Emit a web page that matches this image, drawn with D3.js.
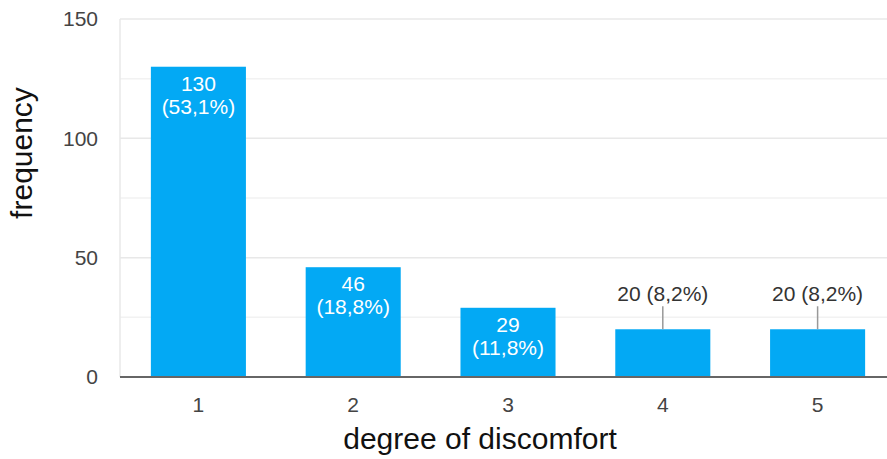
<!DOCTYPE html>
<html>
<head>
<meta charset="utf-8">
<script src="https://cdn.jsdelivr.net/npm/d3@7"></script>
<style>
  html, body { margin: 0; padding: 0; background: #fff; }
  svg { display: block; font-family: "Liberation Sans", Arial, sans-serif; }
</style>
</head>
<body>
<svg id="chart" width="887" height="459"></svg>
<script>
// Responses per degree of discomfort
const categories = ["1", "2", "3", "4", "5"];
const counts = [130, 46, 29, 20, 20];
const percents = ["53,1%", "18,8%", "11,8%", "8,2%", "8,2%"];
const yTicks = [0, 50, 100, 150];
const yMinorTicks = [25, 75, 125];

const svg = d3.select("#chart");
const plotLeft = 120, plotRight = 895, plotTop = 19, plotBottom = 377;

const x = d3.scaleBand()
  .domain(categories)
  .range([plotLeft + 1, plotRight])
  .paddingInner(0.386)
  .paddingOuter(0.193);

const y = d3.scaleLinear().domain([0, 150]).range([plotBottom, plotTop]);

// gridlines
svg.append("g").selectAll("line")
  .data(yMinorTicks).join("line")
  .attr("x1", plotLeft).attr("x2", 887)
  .attr("y1", d => y(d)).attr("y2", d => y(d))
  .attr("stroke", "#f2f2f2").attr("stroke-width", 1.5);

svg.append("g").selectAll("line")
  .data(yTicks.filter(d => d > 0)).join("line")
  .attr("x1", plotLeft).attr("x2", 887)
  .attr("y1", d => y(d)).attr("y2", d => y(d))
  .attr("stroke", "#e8e8e8").attr("stroke-width", 1.5);

// left frame line
svg.append("line")
  .attr("x1", plotLeft).attr("x2", plotLeft)
  .attr("y1", y(150)).attr("y2", plotBottom)
  .attr("stroke", "#e8e8e8").attr("stroke-width", 1.5);

// y axis labels
const yAxis = d3.axisLeft(y).tickValues(yTicks).tickSize(0).tickPadding(22);
const gy = svg.append("g").attr("transform", `translate(${plotLeft},0)`).call(yAxis);
gy.select(".domain").remove();
gy.selectAll("text")
  .attr("fill", "#444").attr("font-size", 21)
  .attr("font-family", "Liberation Sans, Arial, sans-serif");

// bars
svg.append("g").selectAll("rect")
  .data(categories).join("rect")
  .attr("x", d => x(d))
  .attr("width", x.bandwidth())
  .attr("y", (d, i) => y(counts[i]))
  .attr("height", (d, i) => plotBottom - y(counts[i]))
  .attr("fill", "#03a9f4");

// baseline
svg.append("line")
  .attr("x1", plotLeft).attr("x2", 887)
  .attr("y1", plotBottom).attr("y2", plotBottom)
  .attr("stroke", "#666").attr("stroke-width", 2);

// x axis labels
const xAxis = d3.axisBottom(x).tickSize(0).tickPadding(20);
const gx = svg.append("g").attr("transform", `translate(0,${plotBottom})`).call(xAxis);
gx.select(".domain").remove();
gx.selectAll("text")
  .attr("fill", "#444").attr("font-size", 21)
  .attr("font-family", "Liberation Sans, Arial, sans-serif");

// value labels: inside tall bars, above short bars with a leader line
const labels = svg.append("g").attr("font-size", 21);
categories.forEach((c, i) => {
  const cx = x(c) + x.bandwidth() / 2;
  const ty = y(counts[i]);
  if (plotBottom - ty > 60) {
    const t = labels.append("text")
      .attr("text-anchor", "middle").attr("fill", "#fff");
    t.append("tspan").attr("x", cx).attr("y", ty + 24).text(counts[i]);
    t.append("tspan").attr("x", cx).attr("y", ty + 47).text(`(${percents[i]})`);
  } else {
    labels.append("line")
      .attr("x1", cx).attr("x2", cx)
      .attr("y1", ty - 23).attr("y2", ty)
      .attr("stroke", "#999").attr("stroke-width", 1.5);
    labels.append("text")
      .attr("x", cx).attr("y", ty - 28)
      .attr("text-anchor", "middle").attr("fill", "#333")
      .text(`${counts[i]} (${percents[i]})`);
  }
});

// axis titles
svg.append("text")
  .attr("x", 480).attr("y", 449)
  .attr("text-anchor", "middle")
  .attr("font-size", 30).attr("fill", "#111")
  .text("degree of discomfort");

svg.append("text")
  .attr("transform", "translate(32,153) rotate(-90)")
  .attr("text-anchor", "middle")
  .attr("font-size", 30).attr("fill", "#111")
  .text("frequency");
</script>
</body>
</html>
